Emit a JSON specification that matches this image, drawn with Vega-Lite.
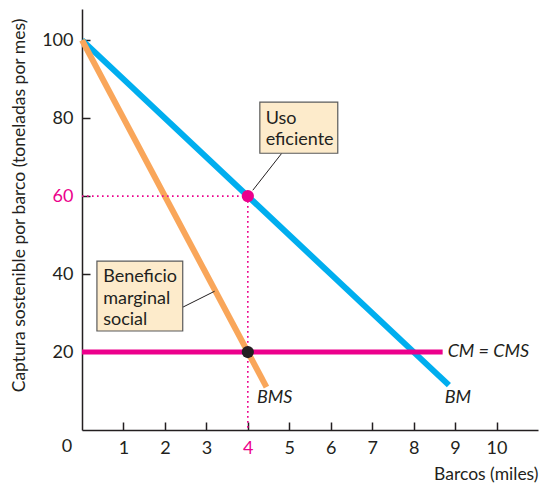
{
  "$schema": "https://vega.github.io/schema/vega-lite/v6.json",
  "autosize": {"type": "none"},
  "width": 456,
  "height": 421,
  "padding": {"left": 82, "top": 9, "right": 2, "bottom": 53},
  "background": "white",
  "config": {
    "view": {"stroke": null},
    "font": "Lato",
    "axis": {"grid": false, "domainColor": "#231F20", "domainWidth": 1.5, "tickColor": "#231F20", "tickWidth": 1.5, "labelColor": "#231F20", "labelFont": "Lato", "labelFontSize": 18, "titleFont": "Lato", "titleFontWeight": "normal", "titleColor": "#231F20", "titleFontSize": 17.5}
  },
  "layer": [
    {
      "data": {"values": [
        {"series": "BM", "x": 0, "y": 100}, {"series": "BM", "x": 8.85, "y": 11.5}
      ]},
      "mark": {"type": "line", "color": "#00AEEF", "strokeWidth": 6, "strokeCap": "butt"},
      "encoding": {
        "x": {"field": "x", "type": "quantitative", "scale": {"domain": [0, 11], "nice": false},
          "axis": {"values": [1,2,3,4,5,6,7,8,9,10], "tickSize": -8, "labelPadding": 17, "title": "Barcos (miles)", "titleAnchor": "end", "titleAlign": "right", "titlePadding": 8,
            "labelColor": {"condition": {"test": "datum.value == 4", "value": "#EC008C"}, "value": "#231F20"}}},
        "y": {"field": "y", "type": "quantitative", "scale": {"domain": [0, 108], "nice": false},
          "axis": {"values": [20,40,60,80,100], "tickSize": -8, "labelPadding": 17, "title": "Captura sostenible por barco (toneladas por mes)", "titleX": -63, "titleY": 196, "titleAngle": -90, "titleAlign": "center", "titleBaseline": "middle",
            "labelColor": {"condition": {"test": "datum.value == 60", "value": "#EC008C"}, "value": "#231F20"}}}
      }
    },
    {
      "data": {"values": [
        {"series": "BMS", "x": 0, "y": 100}, {"series": "BMS", "x": 4.45, "y": 11}
      ]},
      "mark": {"type": "line", "color": "#F9A65A", "strokeWidth": 6, "strokeCap": "butt"},
      "encoding": {"x": {"field": "x", "type": "quantitative"}, "y": {"field": "y", "type": "quantitative"}}
    },
    {
      "data": {"values": [
        {"series": "CM", "x": 0, "y": 20}, {"series": "CM", "x": 8.7, "y": 20}
      ]},
      "mark": {"type": "line", "color": "#EC008C", "strokeWidth": 5, "strokeCap": "butt"},
      "encoding": {"x": {"field": "x", "type": "quantitative"}, "y": {"field": "y", "type": "quantitative"}}
    },
    {
      "data": {"values": [
        {"x": 0, "y": 60, "x2": 4, "y2": 60},
        {"x": 4, "y": 60, "x2": 4, "y2": 0}
      ]},
      "mark": {"type": "rule", "color": "#EC008C", "strokeWidth": 1.6, "strokeDash": [1.6, 3.4]},
      "encoding": {"x": {"field": "x", "type": "quantitative"}, "y": {"field": "y", "type": "quantitative"}, "x2": {"field": "x2"}, "y2": {"field": "y2"}}
    },
    {
      "data": {"values": [
        {"x": 4.82, "y": 71.0, "x2": 4.12, "y2": 61.5},
        {"x": 2.43, "y": 31.5, "x2": 3.2, "y2": 35.6}
      ]},
      "mark": {"type": "rule", "color": "#231F20", "strokeWidth": 1},
      "encoding": {"x": {"field": "x", "type": "quantitative"}, "y": {"field": "y", "type": "quantitative"}, "x2": {"field": "x2"}, "y2": {"field": "y2"}}
    },
    {
      "data": {"values": [
        {"label": "Uso eficiente", "x": 4.29, "x2": 6.17, "y": 84.1, "y2": 71.0},
        {"label": "Beneficio marginal social", "x": 0.36, "x2": 2.43, "y": 43.3, "y2": 25.4}
      ]},
      "mark": {"type": "rect", "fill": "#FDEBCB", "stroke": "#5A5A5A", "strokeWidth": 1.2},
      "encoding": {"x": {"field": "x", "type": "quantitative"}, "y": {"field": "y", "type": "quantitative"}, "x2": {"field": "x2"}, "y2": {"field": "y2"}}
    },
    {
      "data": {"values": [
        {"text": ["Uso", "eficiente"], "x": 4.43, "y": 78.5},
        {"text": ["Beneficio", "marginal", "social"], "x": 0.51, "y": 37.9}
      ]},
      "mark": {"type": "text", "align": "left", "baseline": "alphabetic", "fontSize": 18, "lineHeight": 21.3, "color": "#231F20", "font": "Lato"},
      "encoding": {"x": {"field": "x", "type": "quantitative"}, "y": {"field": "y", "type": "quantitative"}, "text": {"field": "text"}}
    },
    {
      "data": {"values": [
        {"text": "BMS", "x": 4.22, "y": 8.2},
        {"text": "BM", "x": 8.75, "y": 8.2},
        {"text": "CM = CMS", "x": 8.82, "y": 20}
      ]},
      "mark": {"type": "text", "align": "left", "baseline": "middle", "fontSize": 18, "fontStyle": "italic", "color": "#231F20", "font": "Lato"},
      "encoding": {"x": {"field": "x", "type": "quantitative"}, "y": {"field": "y", "type": "quantitative"}, "text": {"field": "text"}}
    },
    {
      "data": {"values": [{"text": "0", "x": 0, "y": 0}]},
      "mark": {"type": "text", "align": "center", "baseline": "middle", "fontSize": 18, "dx": -15, "dy": 17, "color": "#231F20", "font": "Lato"},
      "encoding": {"x": {"field": "x", "type": "quantitative"}, "y": {"field": "y", "type": "quantitative"}, "text": {"field": "text"}}
    },
    {
      "data": {"values": [
        {"name": "eficiente", "x": 4, "y": 60},
        {"name": "social", "x": 4, "y": 20}
      ]},
      "mark": {"type": "point", "filled": true, "opacity": 1, "size": 150},
      "encoding": {"x": {"field": "x", "type": "quantitative"}, "y": {"field": "y", "type": "quantitative"},
        "color": {"field": "name", "type": "nominal", "scale": {"domain": ["eficiente", "social"], "range": ["#EC008C", "#231F20"]}, "legend": null}}
    }
  ]
}
